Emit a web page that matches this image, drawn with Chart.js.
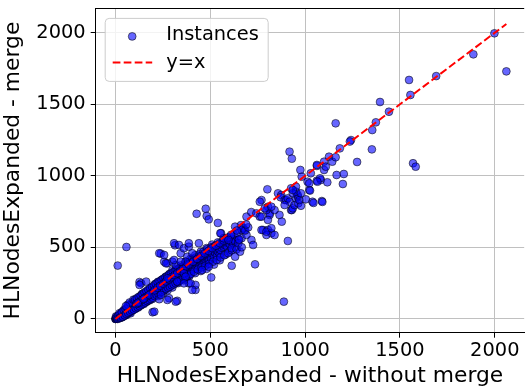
<!DOCTYPE html>
<html>
<head>
<meta charset="utf-8">
<script src="https://cdn.jsdelivr.net/npm/chart.js@4.4.0/dist/chart.umd.min.js"></script>
<style>
html,body{margin:0;padding:0;background:#fff;}
#c{display:block;}
</style>
</head>
<body>
<canvas id="c" width="529" height="389"></canvas>
<script>
// ---- data ----
const xTitle = 'HLNodesExpanded - without merge';
const yTitle = 'HLNodesExpanded - merge';
const legendLabels = ['Instances', 'y=x'];
const xTicks = [0, 500, 1000, 1500, 2000];
const yTicks = [0, 500, 1000, 1500, 2000];

// dense band near the origin
const bandLow = [
[0,0],[1,2],[2,1],[3,3],[4,2],[5,6],[6,4],[7,8],[8,5],[9,10],[10,7],[11,13],[12,9],[13,15],[14,10],[15,17],[16,12],[17,20],[18,13],[19,22],
[20,15],[21,24],[22,16],[24,27],[25,18],[26,30],[27,20],[28,32],[29,22],[30,34],[31,23],[32,37],[33,25],[35,40],[36,27],[37,42],[38,29],[40,45],[41,30],[42,47],
[43,33],[45,50],[46,35],[47,52],[48,36],[50,55],[3,18],[8,15],[16,25],[12,0],[20,5],[28,8],[35,12],[40,18],[48,22],[55,28],[30,40],[38,50],[45,58],[50,38],
[52,45],[54,60],[56,48],[58,63],[60,50],[62,67],[64,53],[66,70],[68,56],[70,75],[72,58],[74,78],[76,62],[78,82],[80,65],[82,88],[84,70],[86,92],[88,72],[90,95],
[92,76],[94,98],[96,80],[98,102],[100,84],[102,108],[104,88],[106,112],[108,90],[110,116],[112,95],[114,118],[116,98],[118,123],[120,100],[122,128],[124,104],[126,130],[128,108],[130,135],
[132,112],[134,140],[136,115],[138,144],[140,118],[142,148],[144,122],[146,152],[148,126],[150,156],[152,130],[154,160],[156,134],[158,163],[160,136],[162,168],[164,140],[166,172],[168,144],[170,176],
[172,148],[174,180],[176,152],[178,184],[180,155],[182,188],[184,158],[186,192],[188,162],[190,196],[192,165],[194,200],[196,168],[198,204],[200,172],
[60,30],[75,45],[90,60],[105,70],[120,80],[135,95],[150,105],[165,120],[180,130],[195,140],[70,95],[85,110],[100,125],[115,140],[130,155],[145,170],[160,185],[175,200],[190,215],[140,175],[80,40]
];

// dense band 200 - 640
const bandMid = [
[202,205],[205,178],[208,212],[210,182],[212,200],[215,218],[218,188],[220,210],[222,226],[225,195],[228,215],[230,234],[232,200],[235,222],[238,240],[240,208],[242,228],[245,248],[248,212],[250,235],
[252,255],[255,220],[258,242],[260,262],[262,225],[265,248],[268,268],[270,232],[272,255],[275,275],[278,238],[280,262],[282,282],[285,245],[288,270],[290,288],[292,250],[295,276],[298,296],[300,256],
[302,282],[305,302],[308,262],[310,290],[312,308],[315,268],[318,296],[320,316],[322,275],[325,302],[328,322],[330,280],[332,308],[335,330],[338,286],[340,315],[342,336],[345,292],[348,322],[350,342],
[352,298],[355,330],[358,350],[360,305],[362,336],[365,356],[368,310],[370,342],[372,362],[375,316],[378,350],[380,370],[382,322],[385,356],[388,376],[390,328],[392,362],[395,382],[398,334],[400,368],
[402,388],[405,340],[408,375],[410,395],[412,346],[415,382],[418,400],[420,352],[422,388],[425,408],[428,358],[430,395],[432,414],[435,365],[438,400],[440,420],[442,370],[445,408],[448,426],[450,376],
[452,414],[455,432],[458,382],[460,420],[462,440],[465,388],[468,426],[470,446],[472,394],[475,432],[478,452],[480,400],[482,438],[485,458],[488,405],[490,445],[492,462],[495,410],[498,450],[500,468],
[505,420],[510,458],[515,476],[520,430],[525,465],[530,484],[535,440],[540,472],[545,490],[550,450],[555,480],[560,498],[565,520],[570,505],[575,535],[580,515],[585,545],[590,500],[595,530],[600,555],
[605,520],[610,540],[615,560],[620,530],[625,555],[630,545],
[210,245],[225,260],[245,275],[265,295],[285,315],[300,340],[320,350],[345,375],[370,400],[395,420],[420,445],[450,470],[480,495],[510,520],[540,535],
[225,160],[250,180],[275,200],[300,220],[330,250],[360,270],[390,300],[420,320],[450,335],[480,350],[520,380],[550,410],[580,450],[600,470]
];

// further instances thickening the band
const bandWide = [
[22,40],[26,10],[34,48],[39,15],[44,62],[49,25],[53,70],[57,35],[63,80],[67,42],[73,88],[77,50],[83,98],[87,58],[93,108],[97,65],[65,100],[75,115],[95,135],[55,90],
[103,135],[107,75],[113,145],[117,82],[123,155],[127,90],[133,162],[137,100],[143,175],[147,108],[153,185],[157,115],[163,195],[167,125],[173,205],[177,132],[183,215],[187,140],[193,225],[197,148],
[110,105],[125,118],[140,133],[155,148],[170,160],[185,176],[200,190],[118,112],[148,140],[178,168],
[203,235],[207,160],[213,245],[217,168],[223,255],[227,175],[233,262],[237,185],[243,272],[247,192],[253,282],[257,200],[263,290],[267,210],[273,300],[277,218],[283,310],[287,225],[293,318],[297,235],
[303,326],[307,242],[313,334],[317,250],[323,342],[327,258],[333,350],[337,266],[343,356],[347,274],[353,366],[357,282],[363,374],[367,290],[373,382],[377,298],[383,392],[387,306],[393,398],[397,314],
[206,200],[222,218],[236,232],[252,246],[266,262],[282,276],[296,292],[312,306],[326,320],[342,336],[356,350],[372,366],[386,380],
[404,420],[414,330],[424,430],[434,345],[444,452],[454,360],[464,470],[474,372],[484,488],[494,385],[504,500],[514,400],[524,510],[534,412],[544,520],[554,430],[564,540],[574,445],[584,560],[594,460],
[604,575],[614,480],[624,590],[634,500],[644,600],[410,400],[430,420],[450,440],[470,458],[490,476],[510,495],[530,512],[550,530],[570,548],[590,568],[610,588]
];

// scattered instances
const scattered = [
[12,373],[58,503],[196,47],[127,258],[136,249],[239,457],[257,400],[274,389],[300,400],[314,515],[309,529],[335,517],[344,459],[379,435],[405,459],[440,529],[428,735],[476,770],[481,720],[492,696],
[540,671],[283,145],[326,127],[422,203],[387,249],[422,238],[457,342],[492,365],[505,290],[318,377],[370,400],[274,284],[326,261],[557,599],[570,564],[596,552],[613,494],[639,487],[613,372],[631,435],
[657,470],[648,552],[665,564],[648,529],[662,656],[679,622],[691,715],[691,587],[674,634],[717,552],[726,517],[631,645],[665,622],[736,382],[640,618],[652,555],[684,618],[666,501],[700,640],[690,660],
[716,747],[743,738],[761,715],[770,715],[813,738],[813,727],[865,727],[877,680],[804,692],[778,622],[804,622],[822,599],[796,587],[839,587],[770,622],[796,610],[822,634],[801,906],[770,831],[761,819],
[804,784],[796,761],[787,773],[839,761],[822,784],[857,878],[874,866],[871,850],[892,831],[900,831],[909,843],[918,819],[892,796],[926,761],[930,761],[935,773],[944,796],[952,843],[961,854],[961,866],
[964,808],[978,791],[926,913],[935,878],[952,889],[952,924],[935,901],[970,831],[978,878],[1004,836],[1039,819],[1088,824],[1022,901],[1013,959],[1022,948],[1062,966],[1083,971],[1117,955],[1166,1006],[1204,1013],
[1199,943],[975,1041],[982,994],[1030,1018],[1062,1069],[1100,1041],[1100,1099],[1126,1134],[1143,1099],[1161,1130],[1183,1192],[1242,1250],[1236,1240],[1274,1097],[1352,1185],[1354,1320],[1373,1374],[1395,1516],[1442,1448],[918,1169],
[930,1120],[1161,1367],[1548,1670],[1555,1565],[1691,1697],[1569,1088],[1583,1064],[909,545],[888,121],[1887,1849],[2061,1730],[1998,1996],[1026,897],[1044,811],[1091,818],[1079,983],[1065,959],[1062,1076],[1109,1064],
[361,494],[387,505],[231,459],[257,447],[266,389],[309,412],[344,400],[361,319],[370,295],[396,249],[361,249],[405,203],[162,261],[127,238],[205,51],[274,133],[318,121],[231,138],[240,168],[387,529],[553,599]
];

const instancePoints = bandLow.concat(bandMid, bandWide, scattered).map(p => ({x: p[0], y: p[1]}));
const allX = instancePoints.map(p => p.x);
const diagStart = Math.min(...allX);
const diagEnd = Math.max(...allX);
const diagLine = [{x: diagStart, y: diagStart}, {x: diagEnd, y: diagEnd}];

// ---- drawing ----
const FONT = "'DejaVu Sans', sans-serif";
const tickFont = {family: FONT, size: 19.4};
const titleFont = {family: FONT, size: 21.8};

const mplFrame = {
  id: 'mplFrame',
  afterDraw(chart) {
    const ctx = chart.ctx, a = chart.chartArea;
    ctx.save();
    // top spine
    ctx.strokeStyle = '#000';
    ctx.lineWidth = 1;
    ctx.beginPath();
    ctx.moveTo(a.left, Math.round(a.top) + 0.5);
    ctx.lineTo(a.right, Math.round(a.top) + 0.5);
    ctx.stroke();
    // legend box
    const bx = a.left + 9.5, by = a.top + 10, bw = 163, bh = 63;
    ctx.fillStyle = 'rgba(255,255,255,0.8)';
    ctx.strokeStyle = '#cccccc';
    ctx.lineWidth = 1;
    ctx.beginPath();
    ctx.roundRect(bx, by, bw, bh, 4);
    ctx.fill();
    ctx.stroke();
    const ds = chart.data.datasets;
    const sc = ds.find(d => d.label === legendLabels[0]);
    const ln = ds.find(d => d.label === legendLabels[1]);
    // marker
    ctx.beginPath();
    ctx.arc(bx + 27, by + 18, sc.pointRadius, 0, Math.PI * 2);
    ctx.fillStyle = sc.backgroundColor;
    ctx.fill();
    ctx.lineWidth = sc.borderWidth;
    ctx.strokeStyle = sc.borderColor;
    ctx.stroke();
    // dashed line
    ctx.beginPath();
    ctx.setLineDash(ln.borderDash);
    ctx.strokeStyle = ln.borderColor;
    ctx.lineWidth = ln.borderWidth;
    ctx.moveTo(bx + 7.5, by + 44);
    ctx.lineTo(bx + 47, by + 44);
    ctx.stroke();
    ctx.setLineDash([]);
    // texts
    ctx.fillStyle = '#000';
    ctx.font = "19.4px " + FONT;
    ctx.textBaseline = 'middle';
    ctx.textAlign = 'left';
    ctx.fillText(legendLabels[0], bx + 61, by + 17);
    ctx.fillText(legendLabels[1], bx + 61, by + 45);
    ctx.restore();
  }
};

new Chart(document.getElementById('c'), {
  data: {
    datasets: [
      {
        type: 'line',
        label: legendLabels[1],
        data: diagLine,
        borderColor: '#ff0000',
        borderWidth: 2,
        borderDash: [7.7, 3.3],
        pointRadius: 0,
        fill: false,
        order: 0
      },
      {
        type: 'scatter',
        label: legendLabels[0],
        data: instancePoints,
        backgroundColor: 'rgba(0,0,255,0.6)',
        borderColor: 'rgba(0,0,0,0.6)',
        borderWidth: 0.9,
        pointRadius: 3.9,
        pointHoverRadius: 3.9,
        order: 1
      }
    ]
  },
  options: {
    responsive: false,
    animation: false,
    devicePixelRatio: 1,
    layout: {padding: {top: 8.4, right: 0, left: 0, bottom: 0}},
    plugins: {legend: {display: false}, tooltip: {enabled: false}},
    scales: {
      x: {
        type: 'linear',
        min: -104, max: 2155,
        afterFit: s => { s.height = 56.3; s.paddingLeft = 0; s.paddingRight = 0; },
        afterBuildTicks: s => { s.ticks = xTicks.map(v => ({value: v})); },
        grid: {color: '#c0c0c0', lineWidth: 1, tickLength: 5, tickColor: '#000'},
        border: {color: '#000', width: 1},
        ticks: {font: tickFont, color: '#000', padding: 2, maxRotation: 0, callback: v => String(v)},
        title: {display: true, text: xTitle, font: titleFont, color: '#000', padding: {top: 0, bottom: 0}}
      },
      y: {
        type: 'linear',
        min: -96, max: 2170,
        afterFit: s => { s.width = 95.7; s.paddingTop = 0; s.paddingBottom = 0; },
        afterBuildTicks: s => { s.ticks = yTicks.map(v => ({value: v})); },
        grid: {color: '#c0c0c0', lineWidth: 1, tickLength: 5, tickColor: '#000'},
        border: {color: '#000', width: 1},
        ticks: {font: tickFont, color: '#000', padding: 5, callback: v => String(v)},
        title: {display: true, text: yTitle, font: titleFont, color: '#000', padding: {top: 0, bottom: 0}}
      }
    }
  },
  plugins: [mplFrame]
});
</script>
</body>
</html>
